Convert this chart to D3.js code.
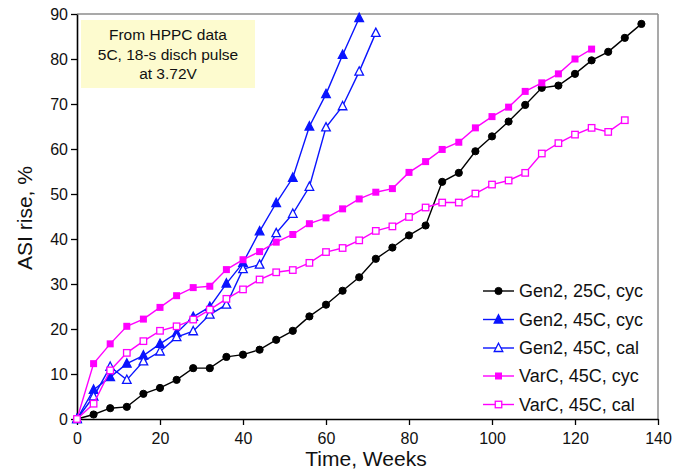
<!DOCTYPE html>
<html><head><meta charset="utf-8">
<script src="https://cdn.jsdelivr.net/npm/d3@7"></script>
<style>body{margin:0;background:#fff}svg{display:block;font-family:"Liberation Sans",Arial,sans-serif}</style>
</head><body><svg id="c" width="683" height="472"></svg>
<script>
const xTicks = [0,20,40,60,80,100,120,140];
const yTicks = [0,10,20,30,40,50,60,70,80,90];
const weeks = d3.range(0, 137, 4);
const gen2_25_cyc = [0,1.0,2.4,2.7,5.6,6.9,8.7,11.3,11.3,13.8,14.3,15.4,17.6,19.6,22.8,25.4,28.5,31.5,35.6,38.1,40.8,43.0,52.7,54.7,59.5,62.8,66.1,69.8,73.6,74.1,76.7,79.7,81.6,84.7,87.8];
const gen2_45_cyc = [0,6.5,9.3,12.3,14.1,16.7,19.1,22.7,24.9,30.1,34.7,41.7,48.0,53.6,65.0,72.2,80.9,89.1];
const gen2_45_cal = [0,5.0,11.6,8.7,12.8,15.0,18.2,19.5,23.2,25.4,33.3,34.3,41.3,45.6,51.6,64.8,69.5,77.2,85.8];
const varc_45_cyc = [0,12.3,16.7,20.6,22.2,24.8,27.4,29.2,29.5,33.2,35.4,37.2,39.3,41.0,43.4,44.7,46.7,48.9,50.4,51.2,54.8,57.2,59.9,61.5,64.7,67.2,69.3,72.8,74.7,76.7,80.0,82.2];
const varc_45_cal = [0,3.4,10.8,14.7,17.3,19.6,20.6,22.1,24.3,26.7,28.8,31.0,32.6,33.1,34.7,37.1,38.0,39.7,41.8,42.8,44.9,47.0,48.1,48.1,50.1,52.1,53.0,54.7,59.0,61.3,63.2,64.7,63.8,66.4];
const seriesNames = ["Gen2, 25C, cyc","Gen2, 45C, cyc","Gen2, 45C, cal","VarC, 45C, cyc","VarC, 45C, cal"];
const noteLines = ["From HPPC data","5C, 18-s disch pulse","at 3.72V"];

const series = [
  {name:seriesNames[0], vals:gen2_25_cyc, color:"#000000", sym:"circle", fill:true},
  {name:seriesNames[1], vals:gen2_45_cyc, color:"#0a14ff", sym:"triangle", fill:true},
  {name:seriesNames[2], vals:gen2_45_cal, color:"#0a14ff", sym:"triangle", fill:false},
  {name:seriesNames[3], vals:varc_45_cyc, color:"#ff00ff", sym:"square", fill:true},
  {name:seriesNames[4], vals:varc_45_cal, color:"#ff00ff", sym:"square", fill:false}
];

const svg = d3.select("#c");
const L=77, R=658, T=14, B=419;
const x = d3.scaleLinear().domain([0,140]).range([L,R]);
const y = d3.scaleLinear().domain([0,90]).range([B,T]);

// frame top/right
svg.append("line").attr("x1",L).attr("x2",R).attr("y1",T).attr("y2",T).attr("stroke","#8c8c8c").attr("stroke-width",1.5);
svg.append("line").attr("x1",R).attr("x2",R).attr("y1",T).attr("y2",B).attr("stroke","#8c8c8c").attr("stroke-width",1.5);

// annotation box
const note = svg.append("g");
note.append("rect").attr("x",81).attr("y",20).attr("width",174).attr("height",68).attr("fill","#fdfbcf");
noteLines.forEach((t,i)=>note.append("text").attr("x",168).attr("y",40+i*19.5).attr("text-anchor","middle").attr("font-size",15.5).attr("fill","#111").text(t));

// axes
const xa = svg.append("g").attr("transform",`translate(0,${B})`).call(d3.axisBottom(x).tickValues(xTicks).tickSize(6).tickPadding(4).tickSizeOuter(0));
const ya = svg.append("g").attr("transform",`translate(${L},0)`).call(d3.axisLeft(y).tickValues(yTicks).tickSize(6).tickPadding(3).tickSizeOuter(0));
[xa,ya].forEach(a=>{
  a.select(".domain").attr("stroke","#000").attr("stroke-width",1.6);
  a.selectAll(".tick line").attr("stroke","#000").attr("stroke-width",1.3);
  a.selectAll(".tick text").attr("font-size",16).attr("fill","#111").attr("font-family","Liberation Sans, Arial, sans-serif");
});
xa.selectAll(".tick text").attr("dy","0.95em");
ya.selectAll(".tick text").attr("dy","0.35em");

svg.append("text").attr("x",366).attr("y",466).attr("text-anchor","middle").attr("font-size",21).attr("fill","#111").text("Time, Weeks");
svg.append("text").attr("transform","translate(32,218) rotate(-90)").attr("text-anchor","middle").attr("font-size",21).attr("fill","#111").text("ASI rise, %");

function marker(g, s, cx, cy){
  if(s.sym==="circle"){
    g.append("circle").attr("cx",cx).attr("cy",cy).attr("r",3.6).attr("fill",s.color).attr("stroke",s.color);
  } else if(s.sym==="square"){
    const a = s.fill?7:6.5;
    g.append("rect").attr("x",cx-a/2).attr("y",cy-a/2).attr("width",a).attr("height",a)
      .attr("fill",s.fill?s.color:"#fff").attr("stroke",s.color).attr("stroke-width",s.fill?0:1.3);
  } else {
    const h=4.3;
    g.append("path").attr("d",`M${cx},${cy-h-0.5}L${cx+h},${cy+h-0.8}L${cx-h},${cy+h-0.8}Z`)
      .attr("fill",s.fill?s.color:"#fff").attr("stroke",s.color).attr("stroke-width",1.3);
  }
}

const line = d3.line().x(d=>x(d[0])).y(d=>y(d[1]));
series.forEach(s=>{
  const pts = s.vals.map((v,i)=>[weeks[i],v]);
  const g = svg.append("g");
  g.append("path").attr("d",line(pts)).attr("fill","none").attr("stroke",s.color).attr("stroke-width",1.4);
  pts.forEach(p=>marker(g,s,x(p[0]),y(p[1])));
});

// legend
const lg = svg.append("g");
const rows=[291,319.5,348,376,404.5];
series.forEach((s,i)=>{
  const cy=rows[i];
  lg.append("line").attr("x1",483).attr("x2",514).attr("y1",cy).attr("y2",cy).attr("stroke",s.color).attr("stroke-width",1.4);
  marker(lg,s,498.5,cy);
  lg.append("text").attr("x",519).attr("y",cy).attr("dy","0.36em").attr("font-size",18).attr("fill","#111").text(s.name);
});
</script></body></html>
